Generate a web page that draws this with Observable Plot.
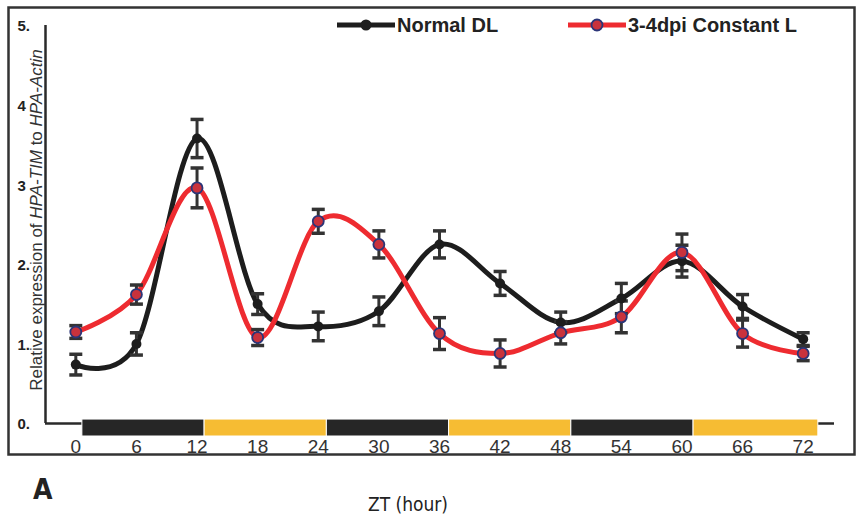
<!DOCTYPE html>
<html>
<head>
<meta charset="utf-8">
<script src="https://cdn.jsdelivr.net/npm/d3@7"></script>
<script src="https://cdn.jsdelivr.net/npm/@observablehq/plot@0.6"></script>
<style>
  html, body { margin: 0; padding: 0; background: #fff; }
  svg { display: block; }
</style>
</head>
<body>
<div id="chart"></div>
<script>
// ---- data ----
const zt = [0, 6, 12, 18, 24, 30, 36, 42, 48, 54, 60, 66, 72];
const normalDL    = [0.74, 1.00, 3.58, 1.50, 1.22, 1.41, 2.25, 1.76, 1.27, 1.57, 2.04, 1.47, 1.06];
const normalDLErr = [0.13, 0.14, 0.24, 0.13, 0.18, 0.18, 0.17, 0.15, 0.13, 0.19, 0.20, 0.15, 0.08];
const constantL    = [1.15, 1.62, 2.96, 1.08, 2.54, 2.25, 1.13, 0.88, 1.14, 1.34, 2.15, 1.13, 0.88];
const constantLErr = [0.08, 0.12, 0.25, 0.10, 0.15, 0.17, 0.20, 0.17, 0.14, 0.20, 0.23, 0.17, 0.09];
const seriesNames = ["Normal DL", "3-4dpi Constant L"];
const xTicks = [0, 6, 12, 18, 24, 30, 36, 42, 48, 54, 60, 66, 72];
const yTicks = [0, 1, 2, 3, 4, 5];
const yTickLabels = ["0.", "1.", "2.", "3", "4", "5."];
const ldBounds = [0.65, 12.75, 24.85, 36.95, 49.05, 61.15, 73.5];
const ldPhase = ["dark", "light", "dark", "light", "dark", "light"];

// ---- tables ----
const normalRows = zt.map((t, i) => ({zt: t, value: normalDL[i], err: normalDLErr[i], series: seriesNames[0]}));
const constRows = zt.map((t, i) => ({zt: t, value: constantL[i], err: constantLErr[i], series: seriesNames[1]}));
const allRows = normalRows.concat(constRows);
const ldRows = ldPhase.map((p, i) => ({start: ldBounds[i], end: ldBounds[i + 1], phase: p}));

const BLACK = "#1d1d1d", RED = "#ee2b30", RED_FILL = "#c9323c", NAVY = "#2b3578", BAR = "#333333";
const SANS = "'Liberation Sans', Arial, sans-serif";
const NARROW = "'Liberation Sans Narrow', 'Arial Narrow', 'DejaVu Sans Condensed', 'Liberation Sans', sans-serif";

const capSymbol = {
  draw(ctx, size) {
    const w = Math.sqrt(size / Math.PI);
    ctx.moveTo(-w, 0);
    ctx.lineTo(w, 0);
  }
};

const svg = Plot.plot({
  width: 860,
  height: 516,
  marginLeft: 45,
  marginRight: 26,
  marginTop: 25,
  marginBottom: 80,
  style: {background: "white", fontFamily: SANS},
  x: {domain: [-3, 75.1]},
  y: {domain: [-0.163, 5], axis: null},
  marks: [
    Plot.ruleY([0], {x1: -3, x2: 75.1, stroke: "#2a2a2a", strokeWidth: 2.5}),
    Plot.ruleX([-3], {y1: 0, y2: 5, stroke: "#2a2a2a", strokeWidth: 2.5}),
    Plot.rect(ldRows, {
      x1: "start", x2: "end", y1: -0.163, y2: 0.05,
      fill: d => d.phase === "dark" ? "#262626" : "#f6bc33",
      stroke: "white", strokeWidth: 1
    }),
    Plot.axisX({
      ticks: xTicks, tickSize: 0, tickPadding: 3, label: null,
      fontSize: 19, fill: "#333"
    }),
    Plot.text(yTicks, {
      x: -3, y: d => d, text: d => yTickLabels[yTicks.indexOf(d)],
      textAnchor: "start", dx: -28, dy: 1, fontSize: 15, fontWeight: "bold", fill: "#222"
    }),
    Plot.line(normalRows, {x: "zt", y: "value", stroke: BLACK, strokeWidth: 5, curve: "cardinal"}),
    Plot.line(constRows, {x: "zt", y: "value", stroke: RED, strokeWidth: 5, curve: "cardinal"}),
    Plot.ruleX(allRows, {x: "zt", y1: d => d.value - d.err, y2: d => d.value + d.err, stroke: BAR, strokeWidth: 3}),
    Plot.dot(allRows, {x: "zt", y: d => d.value + d.err, symbol: capSymbol, r: 6.5, stroke: BAR, strokeWidth: 3.5, fill: "none"}),
    Plot.dot(allRows, {x: "zt", y: d => d.value - d.err, symbol: capSymbol, r: 6.5, stroke: BAR, strokeWidth: 3.5, fill: "none"}),
    Plot.dot(normalRows, {x: "zt", y: "value", r: 5, fill: BLACK}),
    Plot.dot(constRows, {x: "zt", y: "value", r: 5.5, fill: RED_FILL, stroke: NAVY, strokeWidth: 1.8})
  ]
});

document.getElementById("chart").appendChild(svg);

const s = d3.select(svg);

// ---- decorations: frame, legend, titles ----
s.append("rect")
  .attr("x", 8.5).attr("y", 7.5).attr("width", 846).attr("height", 447)
  .attr("fill", "none").attr("stroke", "#333").attr("stroke-width", 2.5);

const legend = s.append("g").attr("text-anchor", "start");
const items = [
  {name: seriesNames[0], x0: 337, x1: 395, stroke: BLACK, fill: BLACK, dotStroke: "none", r: 5.5},
  {name: seriesNames[1], x0: 568, x1: 626, stroke: RED, fill: RED_FILL, dotStroke: NAVY, r: 5.5}
];
items.forEach(it => {
  legend.append("line").attr("x1", it.x0).attr("x2", it.x1).attr("y1", 25).attr("y2", 25)
    .attr("stroke", it.stroke).attr("stroke-width", 5);
  legend.append("circle").attr("cx", (it.x0 + it.x1) / 2).attr("cy", 25).attr("r", it.r)
    .attr("fill", it.fill).attr("stroke", it.dotStroke).attr("stroke-width", 1.8);
  legend.append("text").attr("x", it.x1 + 2).attr("y", 25).attr("dy", "0.36em")
    .attr("text-anchor", "start")
    .attr("font-size", 20).attr("font-weight", "bold").attr("fill", "#222")
    .attr("font-family", SANS)
    .text(it.name);
});

const yt = s.append("text")
  .attr("transform", "translate(42,220) rotate(-90)")
  .attr("text-anchor", "middle")
  .attr("font-size", 17).attr("fill", "#333")
  .attr("font-family", SANS);
yt.append("tspan").text("Relative expression of ");
yt.append("tspan").attr("font-style", "italic").text("HPA-TIM");
yt.append("tspan").text(" to ");
yt.append("tspan").attr("font-style", "italic").text("HPA-Actin");

s.append("text").attr("x", 33).attr("y", 499).attr("text-anchor", "start")
  .attr("font-size", 28).attr("font-weight", "bold").attr("fill", "#222")
  .attr("font-family", NARROW).text("A");

s.append("text").attr("x", 408).attr("y", 511).attr("text-anchor", "middle")
  .attr("font-size", 19).attr("fill", "#222")
  .attr("font-family", NARROW).text("ZT (hour)");
</script>
</body>
</html>
